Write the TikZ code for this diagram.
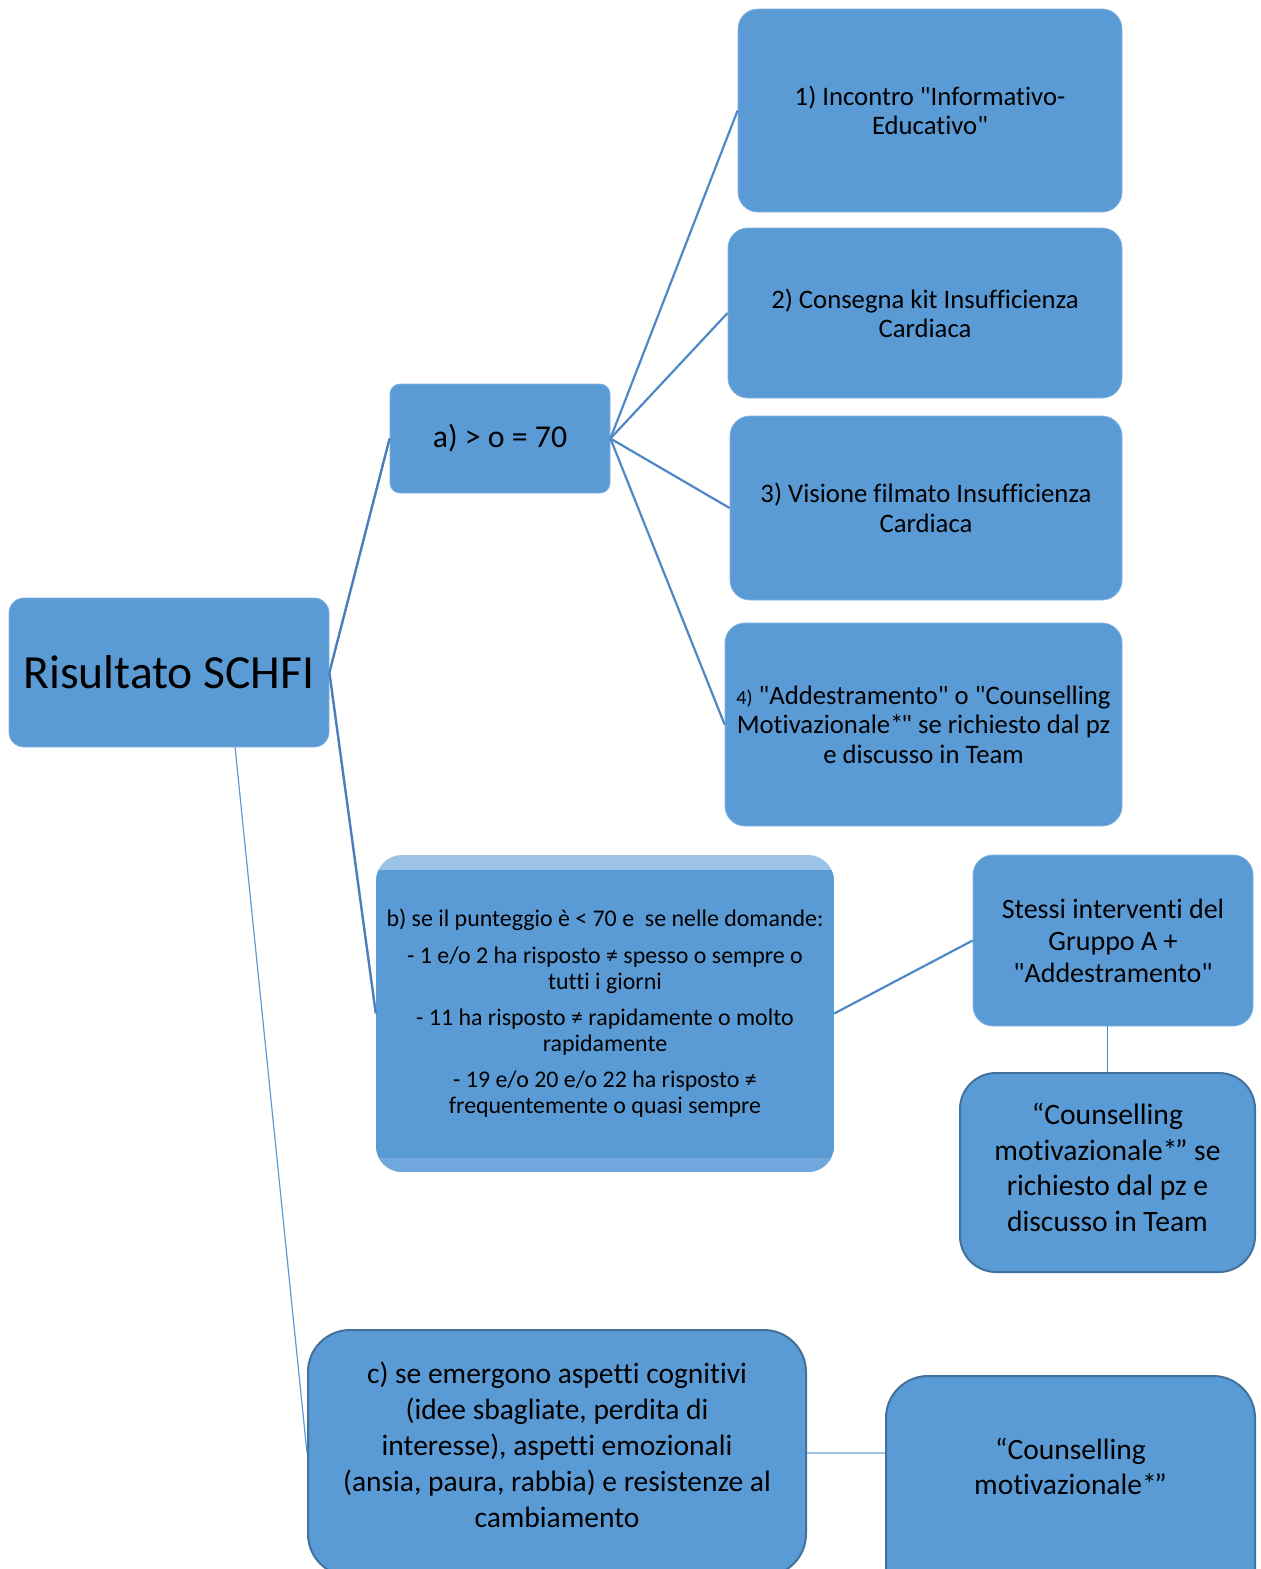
\documentclass[tikz,border=0pt]{standalone}
\usepackage{fontspec}
\setmainfont{Carlito}[Ligatures={TeXOff,NoCommon}]
\usetikzlibrary{calc}
\definecolor{boxfill}{HTML}{5B9BD5}
\definecolor{boxrim}{HTML}{7FB0DF}
\definecolor{darkrim}{HTML}{41719C}
\definecolor{bandtop}{HTML}{9CC2E5}
\definecolor{bandbot}{HTML}{70A7DC}
\definecolor{linkdark}{HTML}{4A7EBB}
\definecolor{linkmid}{HTML}{4F88C6}
\definecolor{linklight}{HTML}{9DC3E6}
\newcommand{\fsz}[2]{\fontsize{#1}{#2}\selectfont}
\newcommand{\starq}[1]{*\kern-0.08em#1}
\begin{document}
\begin{tikzpicture}[x=1pt,y=-1pt,
  box/.style={fill=boxfill, draw=boxrim, line width=0.8pt, rounded corners=#1,
    align=center, inner sep=0pt, text=black},
  box/.default=18pt,
  darkbox/.style={box=#1, draw=darkrim, line width=2pt},
  darkbox/.default=36pt,
  label/.style={align=center, inner sep=0pt, text=black},
  link/.style={draw=linkmid, line width=2.2pt},
  rootlink/.style={draw=linkdark, line width=2.4pt}]
\useasboundingbox (0,0) rectangle (1261,1569);
\clip (0,0) rectangle (1261,1569);

% root
\node[box=15pt, minimum width=320pt, minimum height=149pt, font=\fsz{47.6}{55}]
  (root) at (169,672.5) {Risultato SCHFI};

% group a
\node[box=10pt, minimum width=220pt, minimum height=109pt, font=\fsz{31.8}{36}]
  (a) at (500,438.5) {a) > o = 70};
\node[box=20pt, minimum width=384pt, minimum height=203pt, font=\fsz{26.7}{29}]
  (a1) at (930,110.5) {1) Incontro "Informativo-\\Educativo"};
\node[box=20pt, minimum width=394pt, minimum height=170pt, font=\fsz{26.7}{29}]
  (a2) at (925,313) {2) Consegna kit Insufficienza\\Cardiaca};
\node[box=20pt, minimum width=392pt, minimum height=184pt, font=\fsz{26.7}{30}]
  (a3) at (926,508) {3) Visione filmato Insufficienza\\Cardiaca};
\node[box=20pt, minimum width=397pt, minimum height=203pt, font=\fsz{26.7}{29.5}]
  (a4) at (923.5,724.5) {{\fsz{20}{29.5}4)} "Addestramento" o "Counselling\\Motivazionale\starq{"} se richiesto dal pz\\e discusso in Team};

% group b
\node[rounded corners=26pt, minimum width=458pt, minimum height=317pt,
  align=center, inner sep=0pt, font=\fsz{23.9}{26},
  path picture={
    \fill[bandtop, sharp corners] (path picture bounding box.north west) rectangle (path picture bounding box.south east);
    \fill[boxfill, sharp corners] ($(path picture bounding box.north west)+(0,15)$) rectangle ($(path picture bounding box.south east)+(0,-14)$);
    \fill[bandbot, sharp corners] ($(path picture bounding box.south west)+(0,-14)$) rectangle (path picture bounding box.south east);
  }]
  (b) at (605,1013.5) {b) se il punteggio è < 70 e~ se nelle domande:\\[11pt]
    - 1 e/o 2 ha risposto ≠ spesso o sempre o\\tutti i giorni\\[10pt]
    - 11 ha risposto ≠ rapidamente o molto\\rapidamente\\[10pt]
    - 19 e/o 20 e/o 22 ha risposto ≠\\frequentemente o quasi sempre};
\node[box=20pt, minimum width=280pt, minimum height=171pt, font=\fsz{28}{32}]
  (b1) at (1113,940.5) {Stessi interventi del\\Gruppo A +\\"Addestramento"};
\node[darkbox=36pt, minimum width=295pt, minimum height=199pt]
  (b2) at (1107.5,1172.5) {};
\node[label, font=\fsz{29.6}{35.5}] (b2text) at (1107.5,1167.5)
  {“Counselling\\motivazionale\starq{”} se\\richiesto dal pz e\\discusso in Team};

% group c
\node[darkbox=42pt, minimum width=498pt, minimum height=246pt] (c) at (557,1453) {};
\node[label, font=\fsz{29.5}{36}] (ctext) at (557,1444.5)
  {c) se emergono aspetti cognitivi\\(idee sbagliate, perdita di\\interesse), aspetti emozionali\\(ansia, paura, rabbia) e resistenze al\\cambiamento};
\node[darkbox=42pt, minimum width=369pt, minimum height=240pt] (c1) at (1070.5,1496) {};
\node[label, font=\fsz{29.5}{35}] (c1text) at (1070.5,1466.5)
  {“Counselling\\motivazionale\starq{”}};

% connectors
\draw[rootlink] (root.east) -- (a.west);
\draw[rootlink] (root.east) -- (b.west);
\draw[draw=boxfill, line width=1.2pt] ($(root.south west)!0.706!(root.south east)$) -- (c.west);
\foreach \t in {a1,a2,a3,a4} \draw[link] (a.east) -- (\t.west);
\draw[link] (b.east) -- (b1.west);
\draw[draw=linkmid, line width=1.2pt] (b1.south -| b2.north) -- (b2.north);
\draw[draw=linklight, line width=2pt] (c.east) -- (c.east -| c1.west);
\end{tikzpicture}
\end{document}
